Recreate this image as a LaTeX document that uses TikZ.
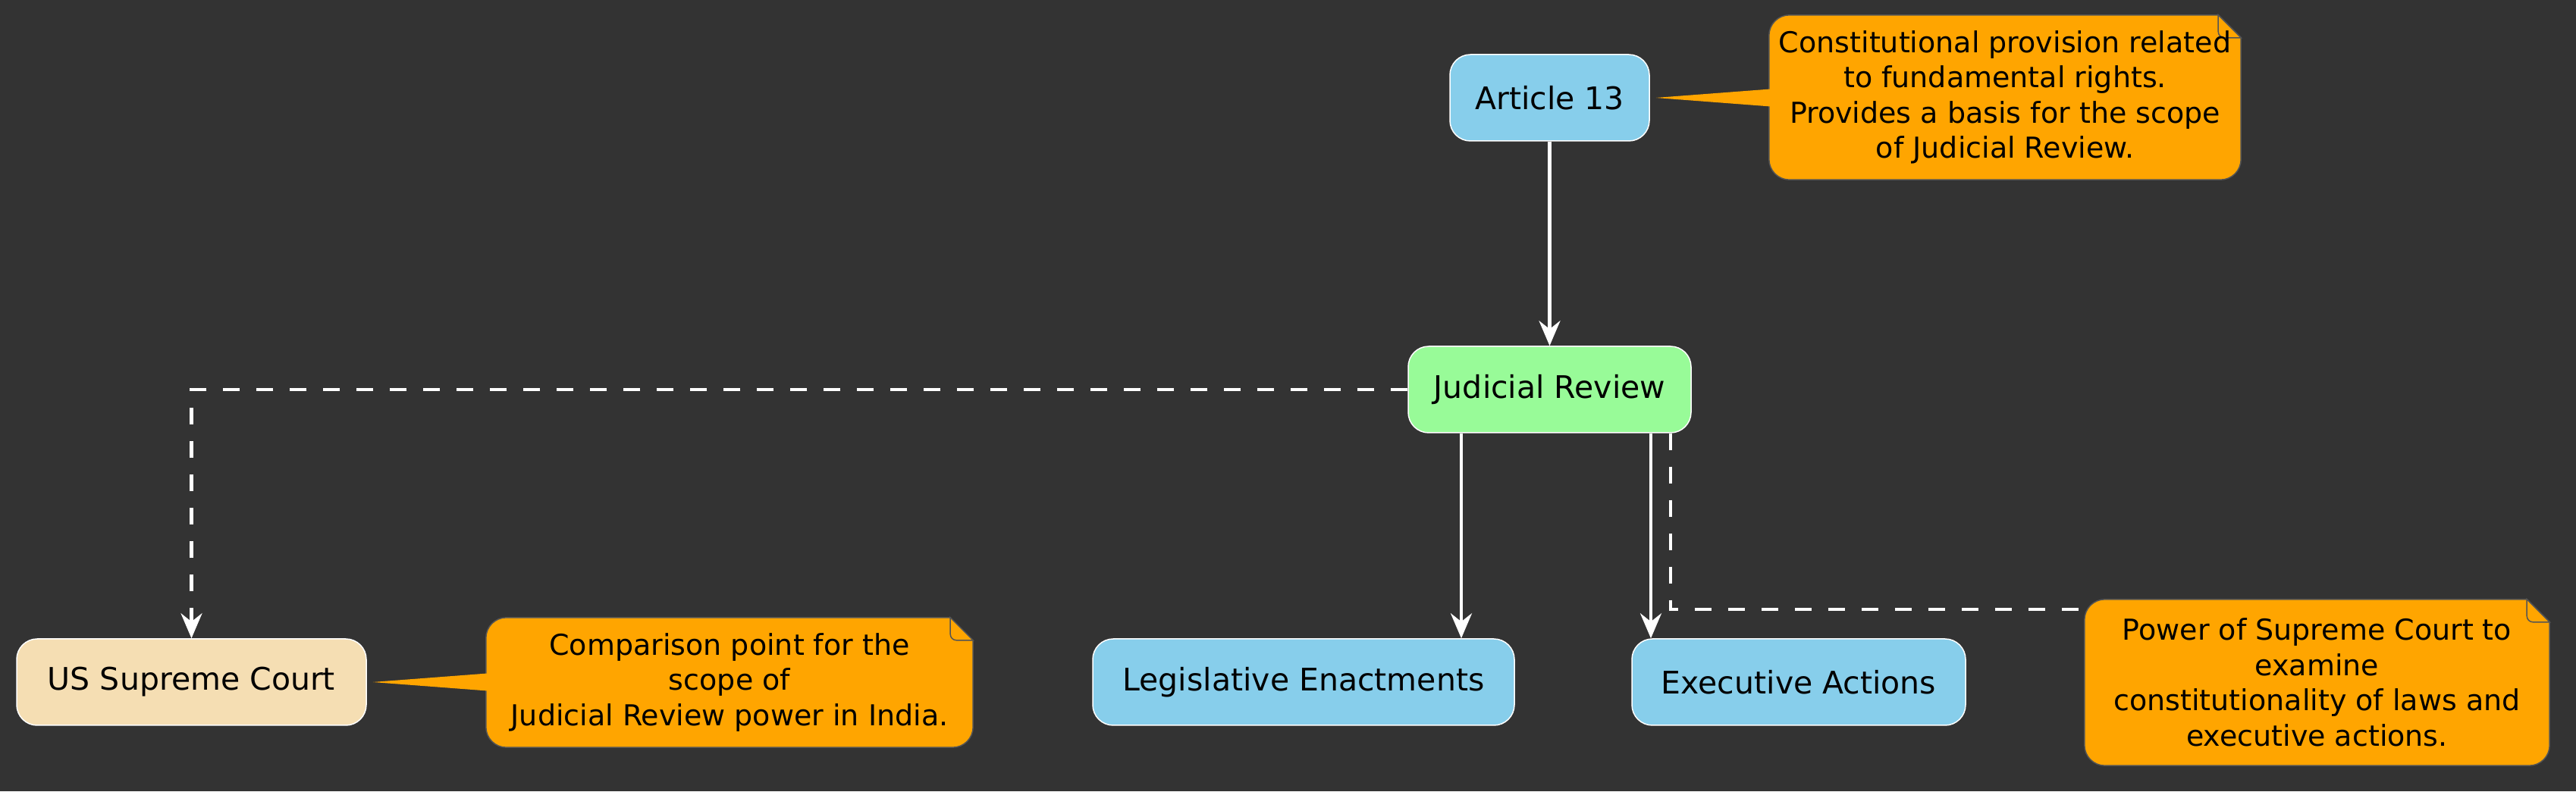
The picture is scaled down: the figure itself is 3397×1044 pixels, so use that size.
\documentclass[tikz,border=0pt]{standalone}
\usepackage{fontspec}
\setmainfont{DejaVu Sans}
\usetikzlibrary{arrows.meta,calc,backgrounds}

\definecolor{bgdark}{HTML}{333333}
\definecolor{skyblue}{HTML}{87CEEB}
\definecolor{palegreen}{HTML}{98FB98}
\definecolor{wheat}{HTML}{F5DEB3}
\definecolor{noteorange}{HTML}{FFA500}
\definecolor{noteline}{HTML}{545454}

\tikzset{
  box/.style={draw=white, line width=1.5pt, rounded corners=27pt, minimum height=114pt,
    inner sep=0pt, text=black, font=\fontsize{41}{48}\selectfont},
  notetext/.style={inner sep=0pt, align=center, text=black, font=\fontsize{38}{46.5}\selectfont},
  arr/.style={draw=white, line width=4.5pt, -{Stealth[length=33pt,width=28pt,inset=11pt]}},
  dasharr/.style={arr, dash pattern=on 22pt off 22pt},
  dashline/.style={draw=white, line width=4.5pt, dash pattern=on 22pt off 22pt},
}

% dog-eared note behind a text node
\newcommand{\notebox}[1]{%
  \begin{scope}[on background layer]
  \filldraw[fill=noteorange, draw=noteline, line width=1.5pt]
    ([xshift=-30pt]#1.north east) -- ([yshift=-30pt]#1.north east)
    -- ([yshift=27pt]#1.south east) arc[start angle=0, end angle=-90, radius=27pt]
    -- ([xshift=27pt]#1.south west) arc[start angle=270, end angle=180, radius=27pt]
    -- ([yshift=-27pt]#1.north west) arc[start angle=180, end angle=90, radius=27pt]
    -- cycle;
  \filldraw[fill=noteorange, draw=noteline, line width=1.5pt]
    ([xshift=-30pt]#1.north east) -- ([xshift=-30pt,yshift=-22pt]#1.north east)
    arc[start angle=180, end angle=270, radius=8pt] -- ([yshift=-30pt]#1.north east) -- cycle;
  \end{scope}}

% wedge from a node to its note
\newcommand{\notetail}[2]{%
  \fill[noteorange] ([xshift=8pt]#1.east) -- ($(#2.west |- #1.east)+(2,11.5)$)
    -- ($(#2.west |- #1.east)+(2,-11.5)$) -- cycle;}

\begin{document}
\begin{tikzpicture}[x=1pt,y=1pt]
\begin{scope}[on background layer]
\fill[bgdark] (0,0) rectangle (3397,1044);
\end{scope}
\useasboundingbox (0,0) rectangle (3397,1044);

% nodes
\node[box, fill=skyblue, minimum width=263pt] (art) at (2043.5,915) {Article 13};
\node[box, fill=palegreen, minimum width=373pt] (jr) at (2043.5,530) {Judicial Review};
\node[box, fill=wheat, minimum width=461pt] (us) at (252.5,144) {US Supreme Court};
\node[box, fill=skyblue, minimum width=556pt] (leg) at (1719,144) {Legislative Enactments};
\node[box, fill=skyblue, minimum width=440pt] (exe) at (2372,144) {Executive Actions};

% notes
\node[notetext, minimum width=622pt, minimum height=217pt] (n1) at (2644,915.5)
  {Constitutional provision related\\to fundamental rights.\\Provides a basis for the scope\\of Judicial Review.};
\notebox{n1}
\node[notetext, minimum width=642pt, minimum height=171pt] (n2) at (962,143.5)
  {Comparison point for the\\scope of\\Judicial Review power in India.};
\notebox{n2}
\node[notetext, minimum width=613pt, minimum height=219pt] (n3) at (3055.5,143.5)
  {Power of Supreme Court to\\examine\\constitutionality of laws and\\executive actions.};
\notebox{n3}
\notetail{art}{n1}
\notetail{us}{n2}

% connectors
\coordinate (jrl) at ([xshift=-116.5pt]jr.south);
\coordinate (jre) at ([xshift=133.5pt]jr.south);
\coordinate (jrn) at ([xshift=159.5pt]jr.south);
\coordinate (n3t) at ([yshift=-13pt]n3.north west);
\draw[arr] (art) -- (jr);
\draw[dasharr] (jr.west) -| (us.north);
\draw[arr] (jrl) -- (jrl |- leg.north);
\draw[arr] (jre) -- (jre |- exe.north);
\draw[dashline] (jrn) |- (n3t);
\end{tikzpicture}
\end{document}
